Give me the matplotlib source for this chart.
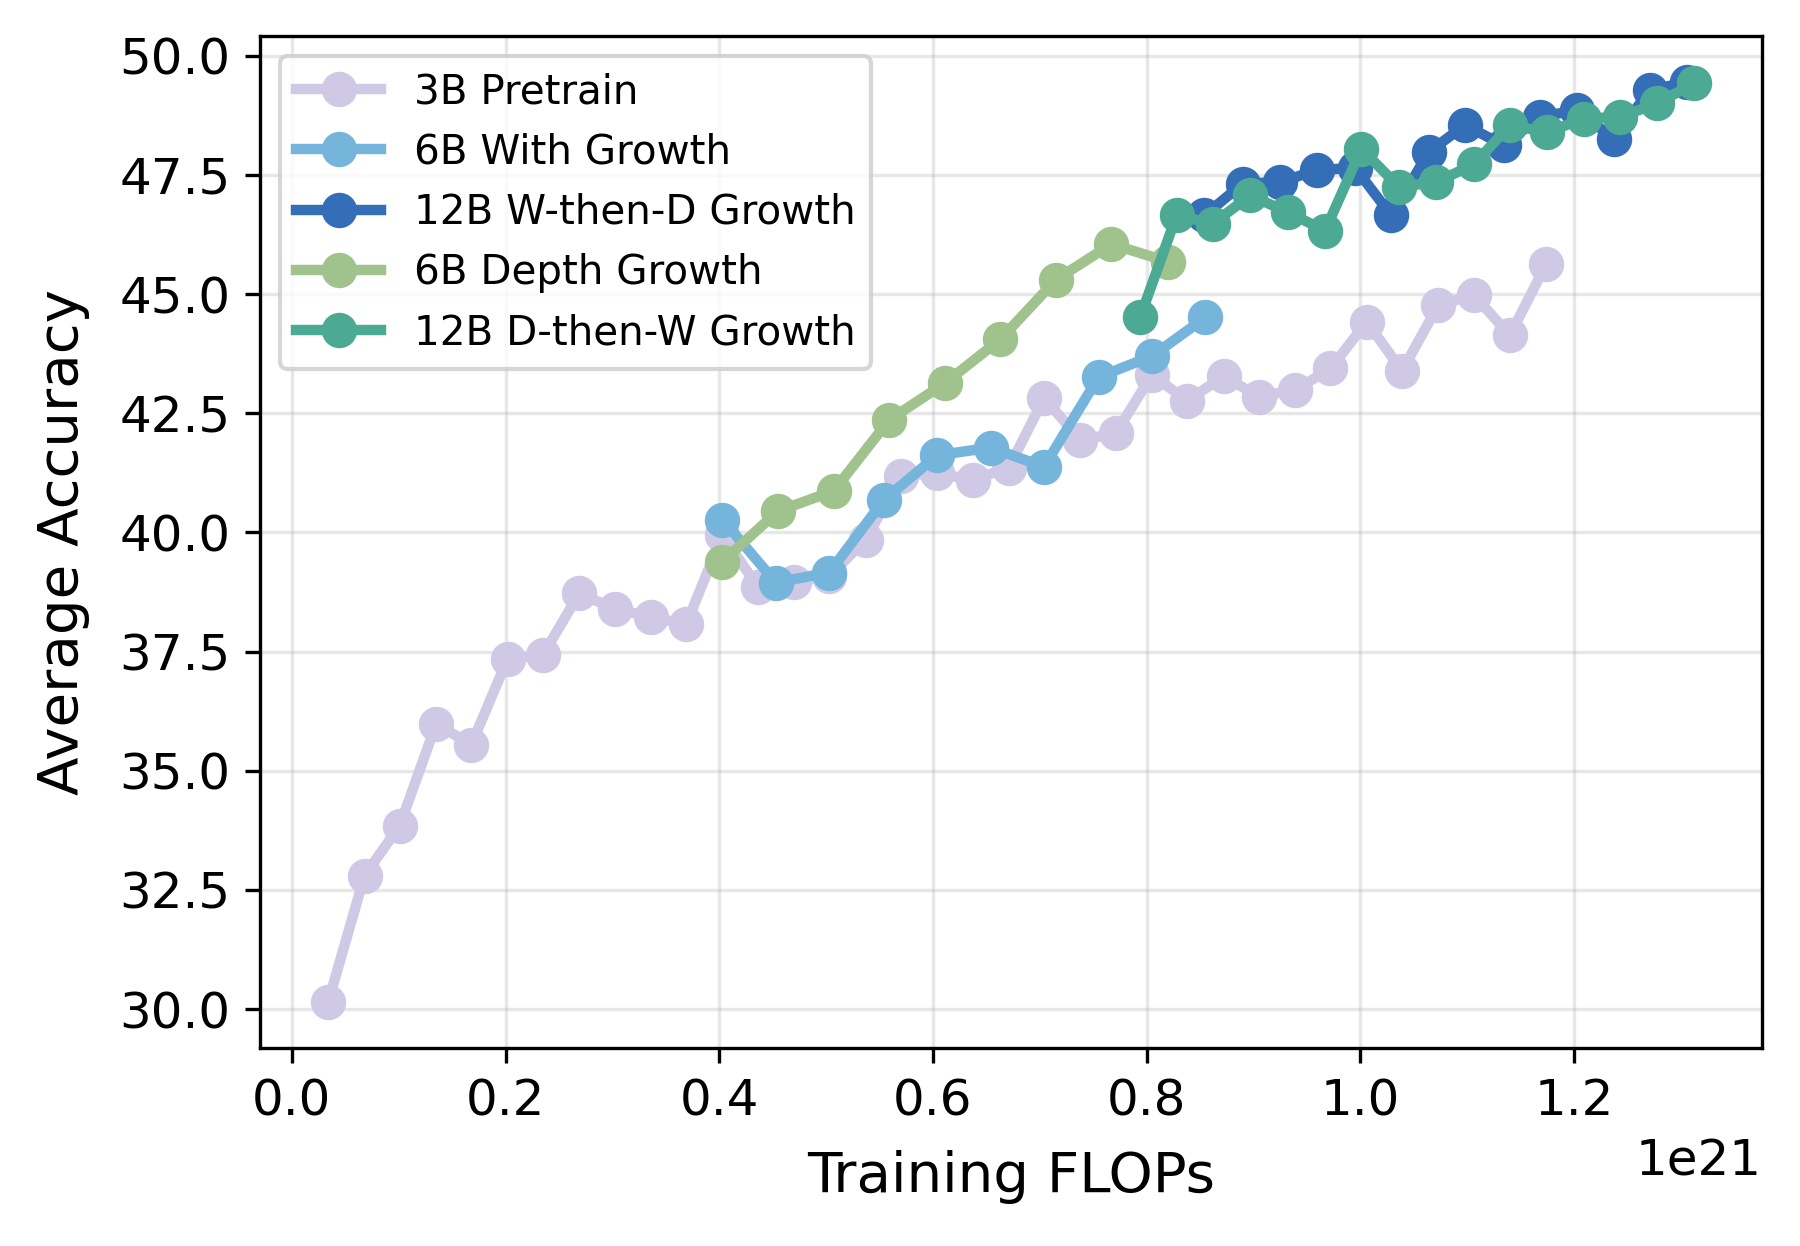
import numpy as np
import matplotlib
matplotlib.use("Agg")
import matplotlib.pyplot as plt

# Training FLOPs in units of 1e21, average accuracy in %
pretrain_3b_x = [0.034, 0.068, 0.101, 0.135, 0.168, 0.202, 0.235, 0.269, 0.302, 0.336,
                 0.369, 0.403, 0.436, 0.470, 0.503, 0.537, 0.570, 0.604, 0.637, 0.671,
                 0.704, 0.738, 0.771, 0.805, 0.838, 0.872, 0.905, 0.939, 0.972, 1.006,
                 1.039, 1.073, 1.106, 1.140, 1.174]
pretrain_3b_y = [30.15, 32.80, 33.85, 35.98, 35.55, 37.35, 37.43, 38.72, 38.40, 38.23,
                 38.07, 39.95, 38.86, 38.97, 39.08, 39.85, 41.18, 41.25, 41.10, 41.36,
                 42.82, 41.94, 42.08, 43.31, 42.76, 43.28, 42.85, 42.99, 43.44, 44.42,
                 43.39, 44.77, 44.98, 44.14, 45.63]

growth_6b_x = [0.403, 0.453, 0.503, 0.554, 0.604, 0.654, 0.704, 0.755, 0.805, 0.855]
growth_6b_y = [40.27, 38.95, 39.16, 40.68, 41.62, 41.78, 41.38, 43.26, 43.70, 44.51]

wd_12b_x = [0.854, 0.890, 0.925, 0.959, 0.995, 1.029, 1.064, 1.098, 1.134, 1.168,
            1.203, 1.237, 1.271, 1.306]
wd_12b_y = [46.65, 47.32, 47.35, 47.60, 47.65, 46.65, 47.98, 48.55, 48.12, 48.72,
            48.86, 48.26, 49.28, 49.45]

depth_6b_x = [0.403, 0.455, 0.507, 0.559, 0.611, 0.663, 0.715, 0.767, 0.820]
depth_6b_y = [39.39, 40.45, 40.87, 42.36, 43.13, 44.05, 45.30, 46.05, 45.68]

dw_12b_x = [0.794, 0.828, 0.862, 0.897, 0.932, 0.967, 1.001, 1.036, 1.071, 1.106,
            1.140, 1.175, 1.209, 1.243, 1.278, 1.312]
dw_12b_y = [44.52, 46.65, 46.48, 47.07, 46.72, 46.33, 48.05, 47.25, 47.35, 47.72,
            48.54, 48.40, 48.68, 48.72, 49.00, 49.42]

series = [
    ("3B Pretrain", pretrain_3b_x, pretrain_3b_y, "#cfc9e6"),
    ("6B With Growth", growth_6b_x, growth_6b_y, "#76b5db"),
    ("12B W-then-D Growth", wd_12b_x, wd_12b_y, "#346eb7"),
    ("6B Depth Growth", depth_6b_x, depth_6b_y, "#a0c28c"),
    ("12B D-then-W Growth", dw_12b_x, dw_12b_y, "#4caa94"),
]

fig = plt.figure(figsize=(6.0, 1246 / 300), dpi=300)
ax = fig.add_axes([0.1444, 0.1589, 0.8345, 0.8122])

for label, xs, ys, color in series:
    ax.plot(np.array(xs) * 1e21, ys, marker="o", markersize=7.5, linewidth=2.5,
            color=color, label=label)

ax.set_xlabel("Training FLOPs", fontsize=13.5, labelpad=6)
ax.set_ylabel("Average Accuracy", fontsize=13.5, labelpad=7)
ax.tick_params(axis="both", labelsize=12)
ax.xaxis.get_offset_text().set_fontsize(12)
ax.grid(True, alpha=0.3)
ax.legend(loc="upper left", fontsize=9.7, handlelength=2.1)

fig.savefig("out.png", dpi=300)
